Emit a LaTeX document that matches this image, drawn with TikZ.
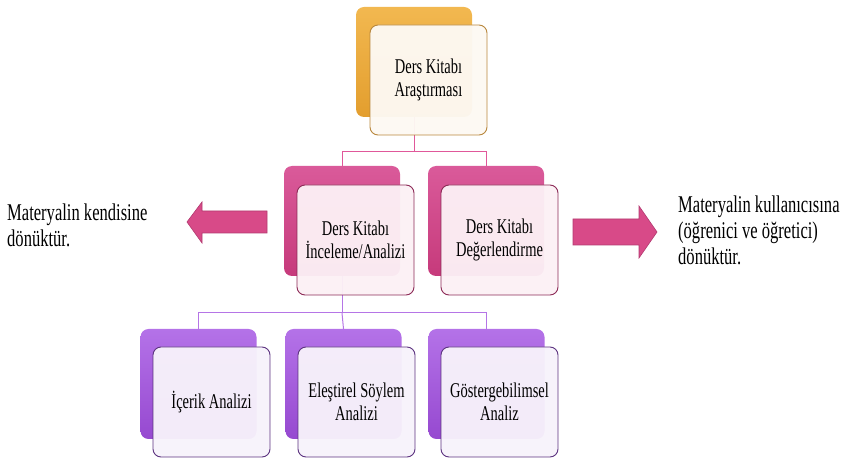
\documentclass[tikz,border=0pt]{standalone}
\usepackage{fontspec}
\setmainfont{Liberation Serif}[FakeStretch=0.69]
\usetikzlibrary{positioning,calc}
\definecolor{gold}{HTML}{E39E2E}
\definecolor{goldlt}{HTML}{F2B850}
\definecolor{goldrim}{HTML}{B8873C}
\definecolor{cream}{HTML}{FDF9F3}
\definecolor{rose}{HTML}{C63A7B}
\definecolor{roselt}{HTML}{DA5A9A}
\definecolor{roserim}{HTML}{8C2A56}
\definecolor{blush}{HTML}{FCF0F5}
\definecolor{violet}{HTML}{9649D0}
\definecolor{violetlt}{HTML}{B472E8}
\definecolor{violetrim}{HTML}{5C3380}
\definecolor{lilac}{HTML}{F7F2FB}
\definecolor{arrowpink}{HTML}{D84A88}
\definecolor{arrowrim}{HTML}{B23A70}
\definecolor{linepink}{HTML}{E0589A}
\definecolor{linepurple}{HTML}{B575E6}

\begin{document}
\begin{tikzpicture}[x=1pt,y=-1pt,
  back/.style={rounded corners=8pt,minimum width=116pt,minimum height=110pt,inner sep=0pt},
  front/.style={rounded corners=8pt,minimum width=117pt,minimum height=110pt,inner sep=1pt,
    align=center,line width=0.9pt,fill opacity=0.96,text opacity=1,font=\fontsize{21}{23.5}\selectfont},
  orback/.style={back,top color=goldlt,bottom color=gold},
  orfront/.style={front,fill=cream,draw=goldrim},
  pkback/.style={back,top color=roselt,bottom color=rose},
  pkfront/.style={front,fill=blush,draw=roserim},
  vlback/.style={back,top color=violetlt,bottom color=violet},
  vlfront/.style={front,fill=lilac,draw=violetrim},
  side/.style={align=left,inner sep=0pt,font=\fontsize{24}{26}\selectfont},
  bigarr/.style={fill=arrowpink,draw=arrowrim,line width=0.6pt},
  pkline/.style={draw=linepink,line width=1pt},
  vlline/.style={draw=linepurple,line width=1pt}
]
\useasboundingbox (0,0) rectangle (847,470);

% back layer
\node[orback] (tback) at (414,62) {};
\node[pkback] (mback1) at (342,221) {};
\node[pkback] (mback2) at (486,221) {};
\node[vlback] (bback1) at (198.5,384) {};
\node[vlback] (bback2) at (343.5,384) {};
\node[vlback] (bback3) at (486.5,384) {};

% connectors
\coordinate (tj) at (414,152);
\coordinate (mj) at (342,313);
\draw[pkline] (tback.south) -- (tj) -| (mback1.north);
\draw[pkline] (tj) -| (mback2.north);
\draw[vlline] (mback1.south) -- (mj) -| (bback1.north);
\draw[vlline] (mj) -| (bback3.north);
\draw[vlline] (mj) -- (bback2.north);

% front layer
\node[orfront] (top) at (428.5,80) {Ders Kitabı\\Araştırması};
\node[pkfront] (inc) at (355.5,240) {Ders Kitabı\\İnceleme/Analizi};
\node[pkfront] (deg) at (499.5,240) {Ders Kitabı\\Değerlendirme};
\node[vlfront] (icr) at (211.5,402) {İçerik Analizi};
\node[vlfront] (esa) at (356.5,402) {Eleştirel Söylem\\Analizi};
\node[vlfront] (gos) at (499.5,402) {Göstergebilimsel\\Analiz};

% arrows and notes
\draw[bigarr] (187,222) -- (202,202) -- (202,211) -- (267,211) -- (267,233)
  -- (202,233) -- (202,243) -- cycle;
\draw[bigarr] (573,219) -- (639,219) -- (639,206) -- (657,232) -- (639,258)
  -- (639,245) -- (573,245) -- cycle;
\node[side,anchor=north west] (selfnote) at (7,204) {Materyalin kendisine\\dönüktür.};
\node[side,anchor=north west] (usernote) at (678,196) {Materyalin kullanıcısına\\(öğrenici ve öğretici)\\dönüktür.};
\end{tikzpicture}
\end{document}
